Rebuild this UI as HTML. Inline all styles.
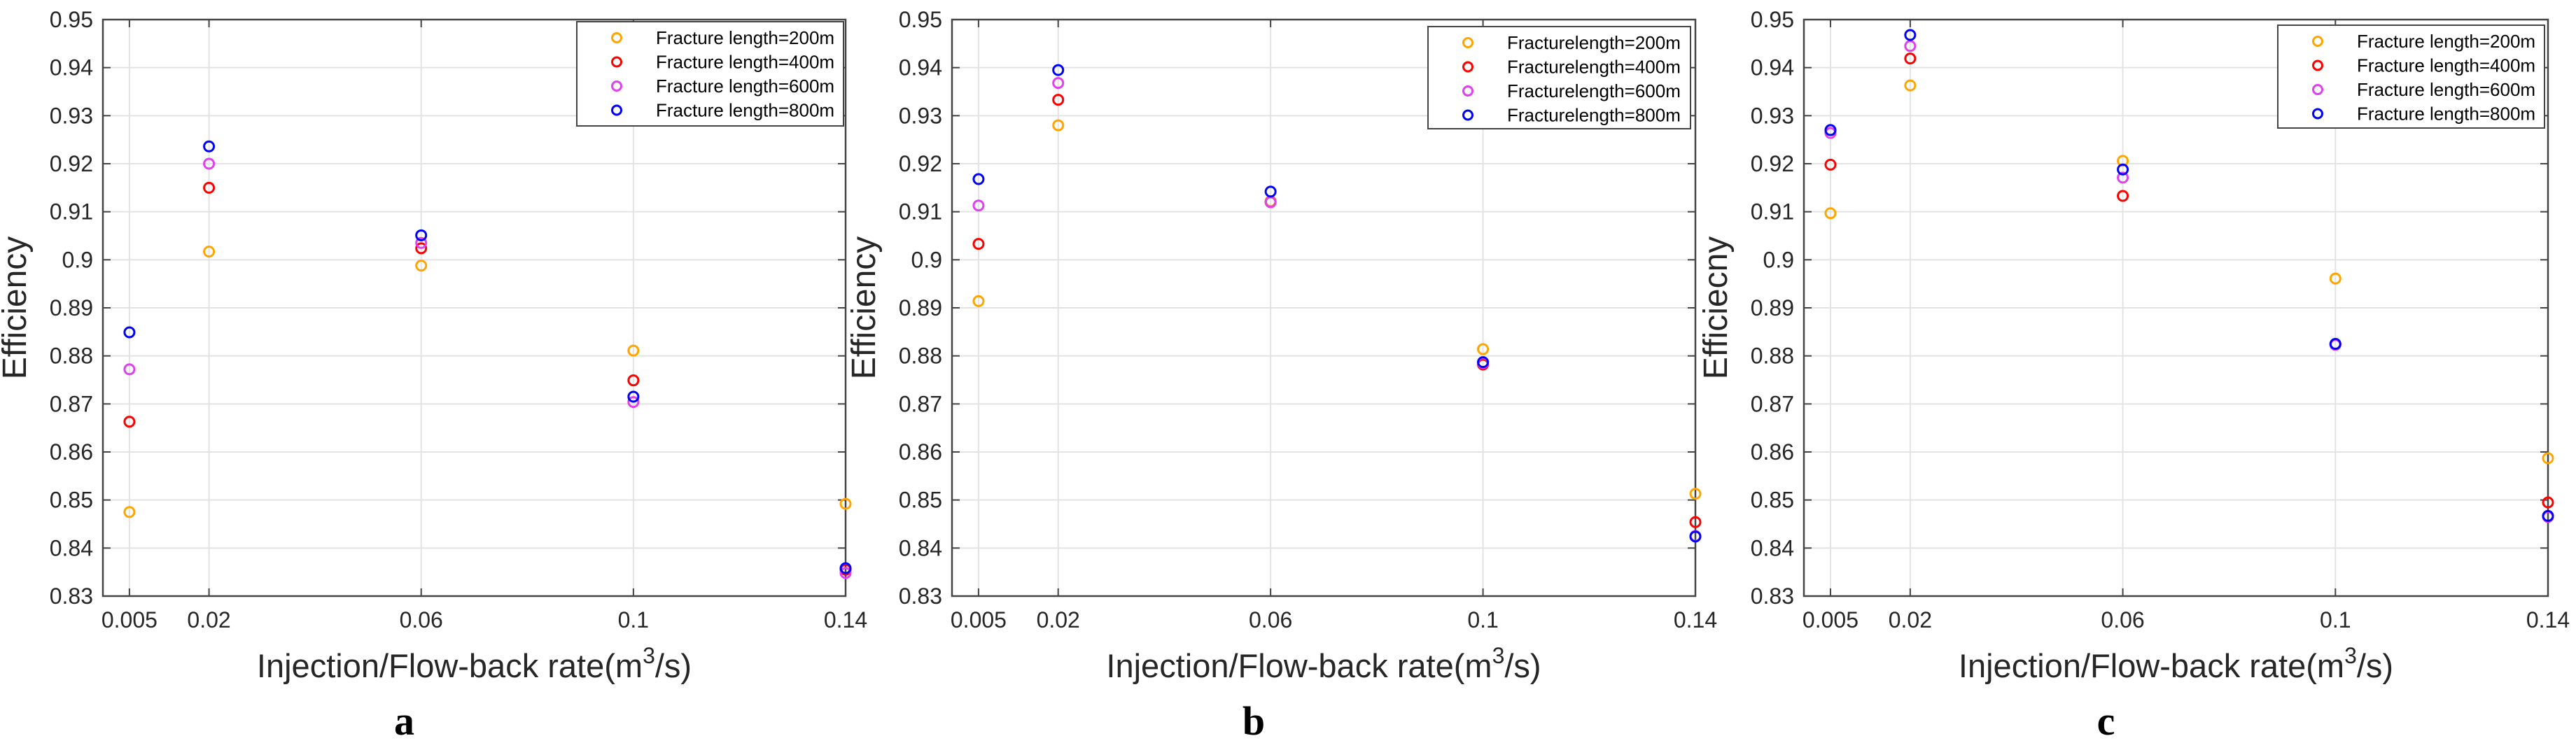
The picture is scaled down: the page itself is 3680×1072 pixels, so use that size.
<!DOCTYPE html>
<html><head><meta charset="utf-8"><style>
html,body{margin:0;padding:0;background:#fff;}
svg{display:block;font-family:"Liberation Sans",Arial,sans-serif;}
</style></head><body>
<svg id="fig" width="3680" height="1072" viewBox="0 0 3680 1072" xmlns="http://www.w3.org/2000/svg"></svg>
<script>
const xCats = [0.005, 0.02, 0.06, 0.1, 0.14];
const xTickLabels = ["0.005", "0.02", "0.06", "0.1", "0.14"];
const yTicks = [0.83,0.84,0.85,0.86,0.87,0.88,0.89,0.9,0.91,0.92,0.93,0.94,0.95];
const yTickLabels = ["0.83","0.84","0.85","0.86","0.87","0.88","0.89","0.9","0.91","0.92","0.93","0.94","0.95"];
const seriesNames = ["200m","400m","600m","800m"];
const a200 = [0.8475, 0.9017, 0.8988, 0.8811, 0.8492];
const a400 = [0.8663, 0.9150, 0.9024, 0.8749, 0.8355];
const a600 = [0.8772, 0.9200, 0.9035, 0.8704, 0.8348];
const a800 = [0.8849, 0.9236, 0.9051, 0.8715, 0.8358];
const b200 = [0.8914, 0.9280, 0.9122, 0.8814, 0.8513];
const b400 = [0.9033, 0.9333, 0.9120, 0.8782, 0.8454];
const b600 = [0.9113, 0.9368, 0.9120, 0.8785, 0.8425];
const b800 = [0.9168, 0.9395, 0.9142, 0.8787, 0.8424];
const c200 = [0.9097, 0.9363, 0.9206, 0.8961, 0.8587];
const c400 = [0.9198, 0.9419, 0.9133, 0.8824, 0.8495];
const c600 = [0.9264, 0.9445, 0.9171, 0.8823, 0.8465];
const c800 = [0.9270, 0.9468, 0.9188, 0.8825, 0.8467];

const NS="http://www.w3.org/2000/svg";
const svg=document.getElementById('fig');
const colors=["#FFA500","#FF0000","#E040F0","#0000FF"];
function mk(tag,attrs,parent){const e=document.createElementNS(NS,tag);for(const k in attrs)e.setAttribute(k,attrs[k]);(parent||svg).appendChild(e);return e;}

const panels=[
 {id:"a",L:147,R:1208,label:"a",legendPrefix:"Fracture length=",lx:824,ly:31,lw:381,lh:149,data:[a200,a400,a600,a800],ylab:"Efficiency"},
 {id:"b",L:1360,R:2422,label:"b",legendPrefix:"Fracturelength=",lx:2040,ly:38,lw:375,lh:146,data:[b200,b400,b600,b800],ylab:"Efficiency"},
 {id:"c",L:2577,R:3640,label:"c",legendPrefix:"Fracture length=",lx:3254,ly:36,lw:381,lh:147,data:[c200,c400,c600,c800],ylab:"Efficiecny"}
];
const T=28,B=852;
panels.forEach(p=>{
 const g=mk('g',{});
 
 
 const xs=v=>p.L+(v-0)/(0.14-0)*(p.R-p.L);
 const ys=v=>B-(v-0.83)/(0.95-0.83)*(B-T);
 // grid
 yTicks.forEach((t,i)=>{
  const gl=mk('line',{x1:p.L,x2:p.R,y1:ys(t),y2:ys(t),stroke:"#e3e3e3","stroke-width":2},g);
  
  
 });
 xCats.forEach(c=>{
  const gl=mk('line',{x1:xs(c),x2:xs(c),y1:T,y2:B,stroke:"#e3e3e3","stroke-width":2},g);
  
  
 });
 // axes box
 const box=mk('rect',{x:p.L,y:T,width:p.R-p.L,height:B-T,fill:"none",stroke:"#444","stroke-width":2.5},g);
 
 
 // ticks
 yTicks.forEach((t,i)=>{
  mk('line',{x1:p.L,x2:p.L+11,y1:ys(t),y2:ys(t),stroke:"#444","stroke-width":2},g);
  mk('line',{x1:p.R-11,x2:p.R,y1:ys(t),y2:ys(t),stroke:"#444","stroke-width":2},g);
  const tl=mk('text',{x:p.L-14,y:ys(t)+11,"text-anchor":"end","font-size":32,fill:"#262626"},g);
  tl.textContent=yTickLabels[i];
  
  
 });
 xCats.forEach((c,i)=>{
  mk('line',{x1:xs(c),x2:xs(c),y1:B,y2:B-11,stroke:"#444","stroke-width":2},g);
  mk('line',{x1:xs(c),x2:xs(c),y1:T,y2:T+11,stroke:"#444","stroke-width":2},g);
  const tl=mk('text',{x:xs(c),y:897,"text-anchor":"middle","font-size":32,fill:"#262626"},g);
  tl.textContent=xTickLabels[i];
  
  
 });
 // axis titles
 const xt=mk('text',{x:(p.L+p.R)/2,y:968,"text-anchor":"middle","font-size":47,fill:"#262626"},g);
 xt.innerHTML='Injection/Flow-back rate(m<tspan dy="-20" font-size="32">3</tspan><tspan dy="20">/s)</tspan>';
 
 
 const yt=mk('text',{x:0,y:0,"text-anchor":"middle","font-size":48,fill:"#262626",transform:`translate(${p.L-110},${(T+B)/2}) rotate(-90)`},g);
 yt.textContent=p.ylab;
 
 
 // panel letter
 const pl=mk('text',{x:(p.L+p.R)/2-100,y:1050,"text-anchor":"middle","font-size":58,"font-weight":"bold","font-family":"Liberation Serif, serif",fill:"#000"},g);
 pl.textContent=p.label;
 
 
 // points
 p.data.forEach((arr,si)=>{
  arr.forEach((v,i)=>{
   const c=mk('circle',{cx:xs(xCats[i]),cy:ys(v),r:7,fill:"none",stroke:colors[si],"stroke-width":3},g);
   
   
  });
 });
 // legend
 const lg=mk('g',{},g);
 
 
 mk('rect',{x:p.lx,y:p.ly,width:p.lw,height:p.lh,fill:"#fff",stroke:"#444","stroke-width":2},lg);
 seriesNames.forEach((n,si)=>{
  const yy=p.ly+23+si*34.5;
  const m=mk('circle',{cx:p.lx+57,cy:yy,r:6.5,fill:"none",stroke:colors[si],"stroke-width":3},lg);
  
  
  const t=mk('text',{x:p.lx+113,y:yy+9,"font-size":26,fill:"#000"},lg);
  t.textContent=p.legendPrefix+n;
  
  
 });
});
</script>
</body></html>
